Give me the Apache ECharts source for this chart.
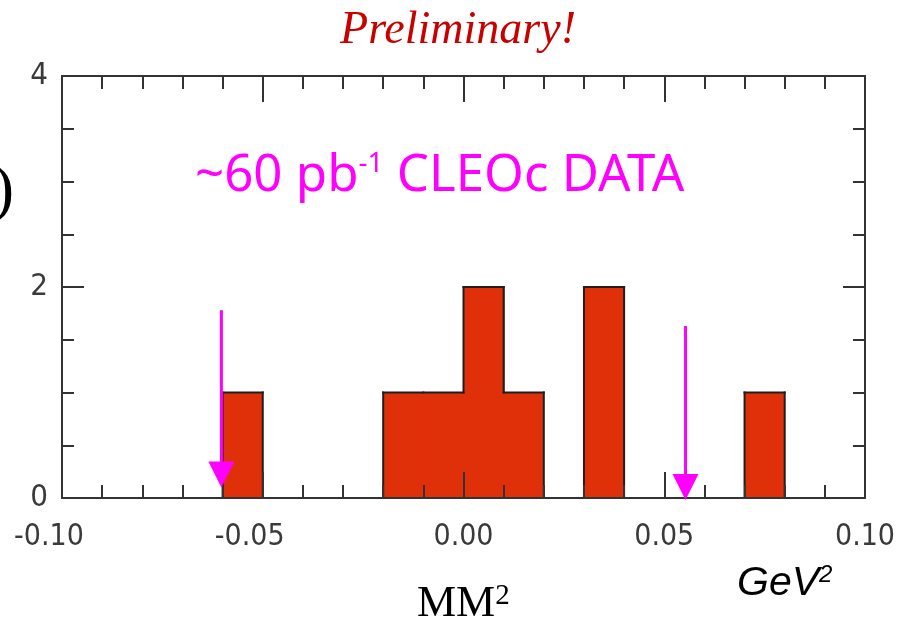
<!DOCTYPE html>
<html><head><meta charset="utf-8">
<script src="https://cdn.jsdelivr.net/npm/echarts@6/dist/echarts.min.js"></script>
<style>html,body{margin:0;padding:0;background:#fff}#c{width:897px;height:624px}</style>
</head><body><div id="c"></div>
<script>
// Histogram bins (GeV^2) and counts
const binStarts = [-0.10,-0.09,-0.08,-0.07,-0.06,-0.05,-0.04,-0.03,-0.02,-0.01,0.00,0.01,0.02,0.03,0.04,0.05,0.06,0.07,0.08,0.09];
const binEnds   = [-0.09,-0.08,-0.07,-0.06,-0.05,-0.04,-0.03,-0.02,-0.01,0.00,0.01,0.02,0.03,0.04,0.05,0.06,0.07,0.08,0.09,0.10];
const counts    = [0,0,0,0,1,0,0,0,1,1,2,1,0,2,0,0,0,1,0,0];
// Cut arrows (x position, top of shaft, tip)
const arrowX    = [-0.0603, 0.0553];
const arrowTop  = [1.78, 1.63];
const arrowTip  = [0.10, -0.02];
// Text
const titleText = 'Preliminary!';
const noteMain1 = '~60 pb';
const noteSup   = '-1';
const noteMain2 = ' CLEOc DATA';
const xLabelMain = 'MM';
const unitMain = 'GeV';

const chart = echarts.init(document.getElementById('c'), null, {renderer: 'canvas'});
const axCol = '#333';
const tickFont = '"Liberation Sans Narrow","DejaVu Sans Condensed","Liberation Sans",sans-serif';

function xAx(pos, showLabel) {
  return {
    type: 'value', position: pos, min: -0.1, max: 0.1, interval: 0.05, z: 10,
    axisLine: {show: true, onZero: false, lineStyle: {color: axCol, width: 2}},
    axisTick: {show: true, inside: true, length: 26, lineStyle: {color: axCol, width: 2}},
    minorTick: {show: true, splitNumber: 5, length: 13, lineStyle: {color: axCol, width: 2}},
    splitLine: {show: false}, minorSplitLine: {show: false},
    axisLabel: {show: showLabel, margin: 24, color: '#3a3a3a', fontSize: 30, fontFamily: tickFont,
      formatter: v => (v < -1e-9 ? '{n|' + v.toFixed(2) + '}' : '{p|' + v.toFixed(2) + '}'),
      rich: {
        n: {fontSize: 30, fontFamily: tickFont, color: '#3a3a3a', padding: [0, 26, 0, 0]},
        p: {fontSize: 30, fontFamily: tickFont, color: '#3a3a3a'}
      }}
  };
}
function yAx(pos, showLabel) {
  return {
    type: 'value', position: pos, min: 0, max: 4, interval: 2, z: 10,
    axisLine: {show: true, onZero: false, lineStyle: {color: axCol, width: 2}},
    axisTick: {show: true, inside: true, length: 22, lineStyle: {color: axCol, width: 2}},
    minorTick: {show: true, splitNumber: 4, length: 12, lineStyle: {color: axCol, width: 2}},
    splitLine: {show: false}, minorSplitLine: {show: false},
    axisLabel: {show: showLabel, margin: 14, color: '#3a3a3a', fontSize: 31, fontFamily: tickFont}
  };
}

const histData = binStarts.map((s, i) => [s, binEnds[i], counts[i]]);
const arrowData = arrowX.map((x, i) => [x, arrowTop[i], arrowTip[i]]);

const option = {
  animation: false,
  backgroundColor: '#fff',
  grid: {left: 62, right: 32, top: 76, bottom: 126, outerBoundsMode: 'none', containLabel: false},
  xAxis: [xAx('bottom', true), xAx('top', false)],
  yAxis: [yAx('left', true), yAx('right', false)],
  series: [
    {
      type: 'custom', xAxisIndex: 0, yAxisIndex: 0, z: 2,
      data: histData,
      renderItem: function (params, api) {
        const i = params.dataIndex;
        const x0 = api.value(0), x1 = api.value(1), c = api.value(2);
        const prev = i > 0 ? counts[i - 1] : 0;
        const next = i < counts.length - 1 ? counts[i + 1] : 0;
        const p0 = api.coord([x0, 0]), p1 = api.coord([x1, c]);
        const children = [];
        const ls = {stroke: '#1e1e1e', lineWidth: 2, lineCap: 'square'};
        if (c > 0) {
          const extra = next > 0 ? 1 : 0;
          children.push({type: 'rect', shape: {x: p0[0], y: p1[1], width: p1[0] - p0[0] + extra, height: p0[1] - p1[1]},
            style: {fill: '#e0300a'}, z2: 0});
          children.push({type: 'line', shape: {x1: p0[0], y1: p1[1], x2: p1[0], y2: p1[1]}, style: ls, z2: 5});
        }
        if (prev !== c) {
          const a = api.coord([x0, prev]), b = api.coord([x0, c]);
          children.push({type: 'line', shape: {x1: a[0], y1: a[1], x2: b[0], y2: b[1]}, style: ls, z2: 5});
        }
        return {type: 'group', children: children};
      }
    },
    {
      type: 'custom', xAxisIndex: 0, yAxisIndex: 0, z: 20,
      data: arrowData,
      renderItem: function (params, api) {
        const pt = api.coord([api.value(0), api.value(1)]);
        const pp = api.coord([api.value(0), api.value(2)]);
        const hh = 26, hw = 13;
        return {type: 'group', children: [
          {type: 'line', shape: {x1: pt[0], y1: pt[1], x2: pt[0], y2: pp[1] - hh + 2},
            style: {stroke: '#ff00ff', lineWidth: 3}},
          {type: 'polygon', shape: {points: [[pp[0] - hw, pp[1] - hh], [pp[0] + hw, pp[1] - hh], [pp[0], pp[1]]]},
            style: {fill: '#ff00ff'}}
        ]};
      }
    }
  ],
  graphic: [
    {type: 'text', x: 458, y: 31, z: 30, style: {text: titleText, font: 'italic 46px "Liberation Serif", serif',
      fill: '#c80000', align: 'center', verticalAlign: 'middle'}},
    {type: 'text', x: 195, y: 176, z: 30, style: {
      text: '{m|' + noteMain1 + '}{s|' + noteSup + '}{m|' + noteMain2 + '}',
      align: 'left', verticalAlign: 'middle',
      rich: {
        m: {fontSize: 51, fontFamily: '"Noto Sans", sans-serif', fill: '#ff00ff', color: '#ff00ff', verticalAlign: 'bottom'},
        s: {fontSize: 28, fontFamily: '"Noto Sans", sans-serif', fill: '#ff00ff', color: '#ff00ff', verticalAlign: 'top'}
      }}},
    {type: 'text', x: 417, y: 604, z: 30, style: {
      text: '{m|' + xLabelMain + '}{s|2}', align: 'left', verticalAlign: 'middle',
      rich: {
        m: {fontSize: 44, fontFamily: '"Liberation Serif", serif', color: '#000', verticalAlign: 'bottom'},
        s: {fontSize: 29, fontFamily: '"Liberation Serif", serif', color: '#000', verticalAlign: 'top'}
      }}},
    {type: 'text', x: 737, y: 584, z: 30, style: {
      text: '{m|' + unitMain + '}{s|2}', align: 'left', verticalAlign: 'middle',
      rich: {
        m: {fontSize: 41, fontStyle: 'italic', fontFamily: '"Liberation Sans", sans-serif', color: '#000', verticalAlign: 'bottom'},
        s: {fontSize: 24, fontStyle: 'italic', fontFamily: '"Liberation Sans", sans-serif', color: '#000', verticalAlign: 'top'}
      }}},
    {type: 'text', x: 14, y: 192, z: 30, style: {text: ')', font: '64px "Liberation Serif", serif',
      fill: '#000', align: 'right', verticalAlign: 'middle'}}
  ]
};
chart.setOption(option);
</script>
</body></html>
